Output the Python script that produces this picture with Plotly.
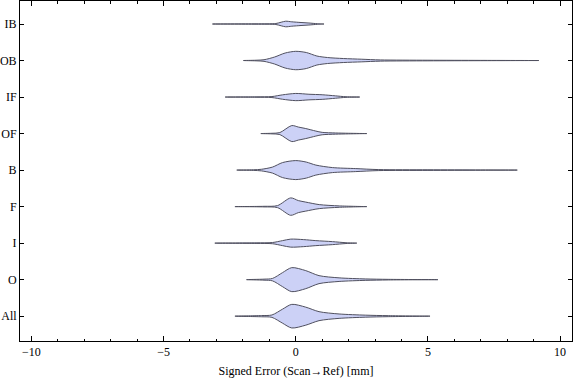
import plotly.graph_objects as go

# Categories, bottom to top
categories = ["All", "O", "I", "F", "B", "OF", "IF", "OB", "IB"]

# Density profiles: error positions (mm) and relative half-widths
all_x = [-2.3, -1.3, -0.9, -0.5, -0.15, 0.38, 0.88, 1.64, 2.65, 3.5, 5.08]
all_w = [0, 0.6, 1.2, 7, 11.8, 9, 4.5, 2.2, 1.0, 0.5, 0]

o_x = [-1.86, -1.2, -0.88, -0.5, -0.15, 0.38, 0.88, 1.64, 2.65, 3.5, 5.38]
o_w = [0, 0.5, 1.2, 7, 12, 9, 4, 1.8, 0.7, 0.3, 0]

i_x = [-3.06, -1.5, -0.88, -0.5, -0.19, 0.3, 0.76, 1.39, 1.9, 2.31]
i_w = [0, 0.3, 0.6, 2.5, 4.0, 3.5, 2.5, 1.5, 0.4, 0]

f_x = [-2.3, -1.2, -0.69, -0.19, 0.1, 0.38, 0.89, 1.65, 2.69]
f_w = [0, 0.3, 1.0, 8.7, 6.0, 4.5, 2.0, 0.7, 0]

b_x = [-2.23, -1.6, -1.3, -0.88, -0.5, 0.0, 0.4, 0.76, 1.39, 2.27, 3.14, 5.0, 7.0, 8.38]
b_w = [0, 0.3, 0.8, 3.0, 7.5, 9.5, 8.0, 5.0, 2.5, 1.5, 0.5, 0.3, 0.15, 0]

of_x = [-1.32, -0.9, -0.6, -0.15, 0.1, 0.38, 0.76, 1.0, 1.5, 2.0, 2.69]
of_w = [0, 0.3, 1.0, 8.0, 6.5, 5.0, 2.5, 1.2, 0.6, 0.3, 0]

if_x = [-2.67, -1.5, -0.9, -0.5, 0.0, 0.5, 1.0, 1.5, 1.9, 2.42]
if_w = [0, 0.2, 0.5, 2.2, 3.6, 2.8, 2.3, 1.2, 0.3, 0]

ob_x = [-1.98, -1.5, -1.2, -0.8, -0.4, 0.0, 0.4, 0.8, 1.2, 1.8, 2.5, 3.2, 5.0, 7.0, 9.2]
ob_w = [0, 0.3, 0.8, 3.5, 7.5, 9.2, 8.0, 4.5, 3.0, 2.0, 1.3, 0.6, 0.3, 0.15, 0]

ib_x = [-3.15, -1.5, -0.75, -0.55, -0.38, -0.15, 0.2, 0.5, 0.82, 1.07]
ib_w = [0, 0.2, 0.5, 1.8, 2.8, 2.2, 1.5, 1.0, 0.3, 0]

profiles = [(all_x, all_w), (o_x, o_w), (i_x, i_w), (f_x, f_w), (b_x, b_w),
            (of_x, of_w), (if_x, if_w), (ob_x, ob_w), (ib_x, ib_w)]

x_ticks = [-10, -5, 0, 5, 10]

SCALE = 1 / 36.5  # relative width -> category units
FILL = "rgb(204,209,246)"
EDGE = "rgb(80,80,95)"

fig = go.Figure()
for k, (xs, ws) in enumerate(profiles):
    px = list(xs) + list(xs[::-1])
    py = [k + w * SCALE for w in ws] + [k - w * SCALE for w in ws[::-1]]
    fig.add_trace(go.Scatter(
        x=px, y=py, mode="lines", fill="toself", fillcolor=FILL,
        line=dict(color=EDGE, width=1, shape="spline", smoothing=0.8),
        hoverinfo="skip", showlegend=False,
    ))

font = dict(family="Liberation Serif, Times New Roman, serif", size=12, color="black")

fig.update_layout(
    width=576, height=381,
    margin=dict(l=20, r=4, t=1, b=40),
    plot_bgcolor="white", paper_bgcolor="white",
    font=font,
    showlegend=False,
    xaxis=dict(
        range=[-10.43, 10.45], tickvals=x_ticks, ticks="inside", ticklen=5,
        tickcolor="black", showline=True, linecolor="black", linewidth=1,
        mirror="allticks", showgrid=False, zeroline=False,
        minor=dict(dtick=1, ticks="inside", ticklen=2.5, tickcolor="black", showgrid=False),
        title=dict(text="Signed Error (Scan\u2192Ref) [mm]", standoff=8, font=font),
        tickfont=font,
    ),
    yaxis=dict(
        range=[-0.68, 8.63], tickvals=list(range(len(categories))), ticktext=categories,
        ticks="inside", ticklen=4, tickcolor="black", showline=True, linecolor="black",
        linewidth=1, mirror="allticks", showgrid=False, zeroline=False, tickfont=font,
    ),
)

fig.write_html("out.html", config={"displayModeBar": False},
               post_script="document.body.style.margin='0px';")
